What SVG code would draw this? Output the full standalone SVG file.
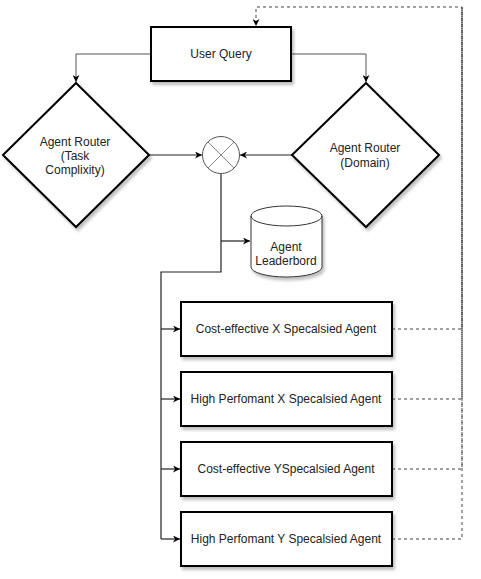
<svg xmlns="http://www.w3.org/2000/svg" width="481" height="579" viewBox="0 0 481 579">
<style>
.box{fill:#fff;stroke:#000;stroke-width:2;filter:url(#sh)}
.t{font-family:"Liberation Sans",Arial,sans-serif;font-size:12px;fill:#222;text-anchor:middle}
.c{fill:none;stroke:#222;stroke-width:1.2}
.cg{fill:none;stroke:#555;stroke-width:1}
.d{fill:none;stroke:#444;stroke-width:1;stroke-dasharray:3 3}
</style>
<defs>
<filter id="sh" x="-20%" y="-20%" width="140%" height="150%">
<feDropShadow dx="2" dy="3" stdDeviation="1.5" flood-color="#000" flood-opacity="0.25"/>
</filter>
<marker id="a" viewBox="0 0 10 10" refX="10" refY="5" markerWidth="7" markerHeight="7" orient="auto" markerUnits="userSpaceOnUse">
<path d="M0,0 L10,5 L0,10 L3,5 z" fill="#000"/>
</marker>
</defs>
<g id="connectors">
<path class="cg" d="M151,54 H76 V82" marker-end="url(#a)"/>
<path class="cg" d="M291,54 H366 V82" marker-end="url(#a)"/>
<path class="c" d="M149,155 H202" marker-end="url(#a)"/>
<path class="c" d="M292,155 H240" marker-end="url(#a)"/>
<path class="c" d="M221,174 V272 H161 V539"/>
<path class="c" d="M221,241 H250" marker-end="url(#a)"/>
<path class="c" d="M161,329 H180" marker-end="url(#a)"/>
<path class="c" d="M161,399 H180" marker-end="url(#a)"/>
<path class="c" d="M161,469 H180" marker-end="url(#a)"/>
<path class="c" d="M161,539 H180" marker-end="url(#a)"/>
<path class="d" d="M392,329 H462 V7 H256 V26" marker-end="url(#a)"/>
<path class="d" d="M392,399 H462 V7"/>
<path class="d" d="M392,469 H462 V7"/>
<path class="d" d="M392,539 H462 V7"/>
</g>
<g id="user-query">
<rect class="box" x="151" y="27" width="140" height="54"/>
<text class="t" x="221" y="58">User Query</text>
</g>
<g id="router-task">
<polygon class="box" points="76,83 149,155 76,227 3,155"/>
<text class="t" x="75" y="146">Agent Router</text>
<text class="t" x="75" y="160">(Task</text>
<text class="t" x="75" y="174">Complixity)</text>
</g>
<g id="router-domain">
<polygon class="box" points="366,83 439,155 366,227 292,155"/>
<text class="t" x="365" y="152">Agent Router</text>
<text class="t" x="365" y="167">(Domain)</text>
</g>
<g id="merge">
<circle cx="221" cy="155" r="18.5" fill="#fff" stroke="#555" stroke-width="1"/>
<path d="M208,142 L234,168 M234,142 L208,168" stroke="#888" stroke-width="1"/>
</g>
<g id="leaderboard">
<path d="M251,216 A35.5,10 0 0 1 322,216 V267 A35.5,10 0 0 1 251,267 Z" fill="#fff" stroke="#333" stroke-width="1" filter="url(#sh)"/>
<path d="M251,216 A35.5,10 0 0 0 322,216" fill="none" stroke="#333" stroke-width="1"/>
<text class="t" x="286" y="251">Agent</text>
<text class="t" x="286" y="265">Leaderbord</text>
</g>
<g id="agent-cx">
<rect class="box" x="181" y="302" width="211" height="54"/>
<text class="t" x="286" y="333">Cost-effective X Specalsied Agent</text>
</g>
<g id="agent-hx">
<rect class="box" x="181" y="372" width="211" height="54"/>
<text class="t" x="286" y="403">High Perfomant X Specalsied Agent</text>
</g>
<g id="agent-cy">
<rect class="box" x="181" y="442" width="211" height="54"/>
<text class="t" x="286" y="473">Cost-effective YSpecalsied Agent</text>
</g>
<g id="agent-hy">
<rect class="box" x="181" y="512" width="211" height="54"/>
<text class="t" x="286" y="543">High Perfomant Y Specalsied Agent</text>
</g>
</svg>
